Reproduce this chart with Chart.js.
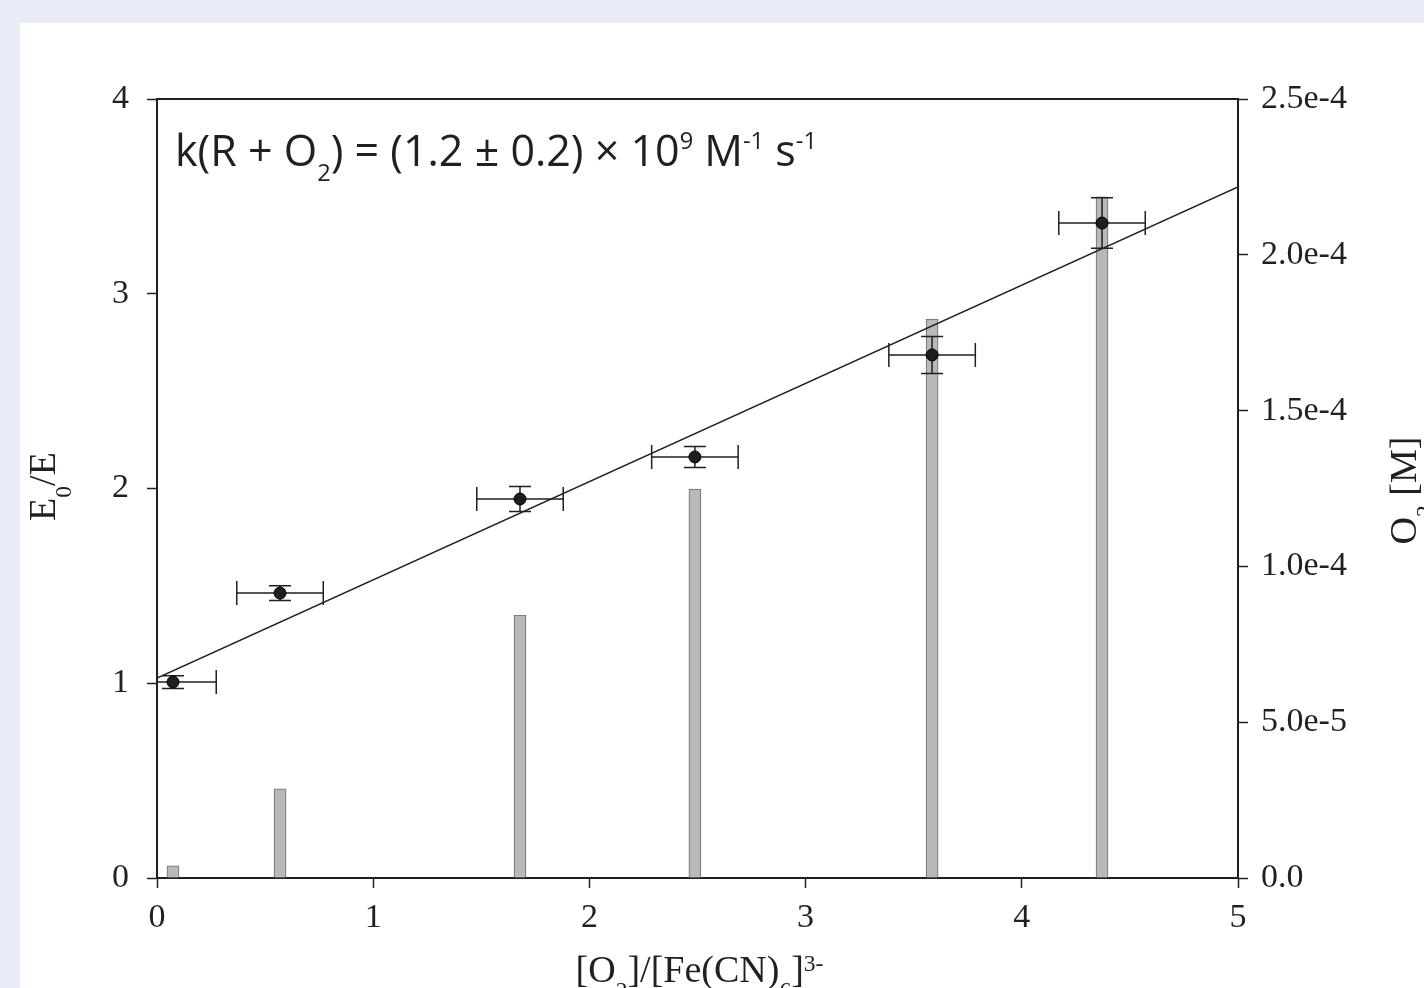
<!DOCTYPE html>
<html>
<head>
<meta charset="utf-8">
<title>E0/E vs O2 ratio</title>
<script src="https://cdn.jsdelivr.net/npm/chart.js@4"></script>
<style>
    html, body { margin: 0; padding: 0; background: #e8ecf7; overflow: hidden; }
    #plotCanvas { display: block; }
</style>
</head>
<body>
<canvas id="plotCanvas" width="1424" height="988"></canvas>
<script>
// measured points: [O2]/[Fe(CN)6]3- ratio vs E0/E
const ratio = [0.074, 0.569, 1.679, 2.488, 3.585, 4.371];
const ratioErr = [0.2, 0.2, 0.2, 0.2, 0.2, 0.2];
const e0e = [1.006, 1.463, 1.946, 2.162, 2.686, 3.363];
const e0eErr = [0.033, 0.038, 0.064, 0.054, 0.095, 0.13];

// O2 concentration bars (right axis, M)
const o2Conc = [3.9e-6, 2.86e-5, 8.44e-5, 1.248e-4, 1.794e-4, 2.186e-4];

// linear fit end points
const fitX = [0, 5];
const fitY = [1.027, 3.548];

const xTicks = [0, 1, 2, 3, 4, 5];
const yTicks = [0, 1, 2, 3, 4];
const y2Ticks = [0, 5e-5, 1e-4, 1.5e-4, 2e-4, 2.5e-4];

document.addEventListener("DOMContentLoaded", function () {
    const ink = "#231f20";
    const serif = "'Liberation Serif', 'Times New Roman', serif";
    const sans = "'Open Sans', 'Noto Sans', sans-serif";

    // draw text made of [string, mode] parts, mode 0 normal, 1 sub, 2 sup
    function richText(ctx, parts, x, y, size, family, align, subCfg) {
        const cfg = subCfg || { small: 0.62, down: 0.42, up: 0.28 };
        const widths = parts.map(([t, m]) => {
            ctx.font = (m ? size * cfg.small : size) + "px " + family;
            return ctx.measureText(t).width;
        });
        const total = widths.reduce((a, b) => a + b, 0);
        let cx = align === "center" ? x - total / 2 : x;
        ctx.textAlign = "left";
        ctx.textBaseline = "alphabetic";
        parts.forEach(([t, m], i) => {
            ctx.font = (m ? size * cfg.small : size) + "px " + family;
            let dy = 0;
            if (m === 1) dy = size * cfg.down;
            if (m === 2) dy = -size * cfg.up;
            ctx.fillText(t, cx, y + dy);
            cx += widths[i];
        });
    }

    const decorPlugin = {
        id: "decor",
        beforeDraw(chart) {
            const ctx = chart.ctx;
            ctx.save();
            ctx.fillStyle = "#e8ecf7";
            ctx.fillRect(0, 0, chart.width, chart.height);
            ctx.fillStyle = "#ffffff";
            ctx.fillRect(20, 23, chart.width - 20, chart.height - 23);
            ctx.restore();
        },
        beforeDatasetDraw(chart, args) {
            // error bars go under the markers
            if (args.index !== 2) return;
            const ctx = chart.ctx;
            const xs = chart.scales.x;
            const ys = chart.scales.y;
            const a = chart.chartArea;
            ctx.save();
            ctx.beginPath();
            ctx.rect(a.left, a.top - 20, a.right - a.left, a.bottom - a.top + 20);
            ctx.clip();
            ctx.strokeStyle = ink;
            ctx.lineWidth = 1.5;
            for (let i = 0; i < ratio.length; i++) {
                const px = xs.getPixelForValue(ratio[i]);
                const py = ys.getPixelForValue(e0e[i]);
                const x0 = xs.getPixelForValue(ratio[i] - ratioErr[i]);
                const x1 = xs.getPixelForValue(ratio[i] + ratioErr[i]);
                const y0 = ys.getPixelForValue(e0e[i] - e0eErr[i]);
                const y1 = ys.getPixelForValue(e0e[i] + e0eErr[i]);
                ctx.beginPath();
                ctx.moveTo(x0, py); ctx.lineTo(x1, py);
                ctx.moveTo(x0, py - 12); ctx.lineTo(x0, py + 12);
                ctx.moveTo(x1, py - 12); ctx.lineTo(x1, py + 12);
                ctx.moveTo(px, y0); ctx.lineTo(px, y1);
                ctx.moveTo(px - 11, y0); ctx.lineTo(px + 11, y0);
                ctx.moveTo(px - 11, y1); ctx.lineTo(px + 11, y1);
                ctx.stroke();
            }
            ctx.restore();
        },
        afterDraw(chart) {
            const ctx = chart.ctx;
            const a = chart.chartArea;
            ctx.save();
            // top frame line
            ctx.strokeStyle = ink;
            ctx.lineWidth = 2;
            ctx.beginPath();
            ctx.moveTo(a.left, a.top);
            ctx.lineTo(a.right, a.top);
            ctx.stroke();

            ctx.fillStyle = ink;
            // annotation
            richText(ctx, [
                ["k(R + O", 0], ["2", 1], [") = (1.2 \u00b1 0.2) \u00d7 10", 0], ["9", 2],
                [" M", 0], ["-1", 2], [" s", 0], ["-1", 2]
            ], 175, 166, 43, sans, "left", { small: 0.55, down: 0.34, up: 0.4 });

            // x title
            const cx = (a.left + a.right) / 2;
            richText(ctx, [
                ["[O", 0], ["2", 1], ["]/[Fe(CN)", 0], ["6", 1], ["]", 0], ["3-", 2]
            ], cx + 2, 982, 38, serif, "center");

            // left title
            const cy = (a.top + a.bottom) / 2;
            ctx.save();
            ctx.translate(55, cy - 2);
            ctx.rotate(-Math.PI / 2);
            richText(ctx, [["E", 0], ["0", 1], ["/E", 0]], 0, 0, 38, serif, "center");
            ctx.restore();

            // right title
            ctx.save();
            ctx.translate(1416, cy + 2);
            ctx.rotate(-Math.PI / 2);
            richText(ctx, [["O", 0], ["2", 1], [" [M]", 0]], 0, 0, 38, serif, "center");
            ctx.restore();
            ctx.restore();
        }
    };

    const tickFont = { family: serif, size: 34 };
    const axisGrid = {
        drawOnChartArea: false,
        drawTicks: true,
        tickLength: 10,
        tickWidth: 1.5,
        tickColor: ink,
        color: ink
    };
    const axisBorder = { display: true, color: ink, width: 2 };

    new Chart(document.getElementById("plotCanvas").getContext("2d"), {
        type: "scatter",
        data: {
            datasets: [
                {
                    type: "bar",
                    label: "O2",
                    yAxisID: "y2",
                    data: ratio.map((x, i) => ({ x: x, y: o2Conc[i] })),
                    backgroundColor: "#b9b9b9",
                    borderColor: "#6a6a6a",
                    borderWidth: 1,
                    barThickness: 12,
                    order: 3
                },
                {
                    type: "line",
                    label: "fit",
                    yAxisID: "y",
                    data: fitX.map((x, i) => ({ x: x, y: fitY[i] })),
                    borderColor: ink,
                    borderWidth: 1.5,
                    pointRadius: 0,
                    fill: false,
                    order: 2
                },
                {
                    type: "scatter",
                    label: "E0/E",
                    yAxisID: "y",
                    data: ratio.map((x, i) => ({ x: x, y: e0e[i] })),
                    backgroundColor: "#1e1e1e",
                    borderColor: "#000000",
                    borderWidth: 1,
                    pointRadius: 6,
                    order: 1
                }
            ]
        },
        options: {
            responsive: false,
            animation: false,
            devicePixelRatio: 1,
            layout: { padding: { top: 99, left: 0, right: 0, bottom: 0 } },
            plugins: {
                legend: { display: false },
                tooltip: { enabled: false }
            },
            scales: {
                x: {
                    type: "linear",
                    min: 0,
                    max: 5,
                    offset: false,
                    afterBuildTicks: (s) => { s.ticks = xTicks.map(v => ({ value: v })); },
                    ticks: { color: ink, font: tickFont, padding: 10, maxRotation: 0, callback: (v) => String(v) },
                    grid: Object.assign({ offset: false }, axisGrid),
                    border: axisBorder,
                    afterFit: (s) => { s.height = 110; }
                },
                y: {
                    type: "linear",
                    position: "left",
                    min: 0,
                    max: 4,
                    afterBuildTicks: (s) => { s.ticks = yTicks.map(v => ({ value: v })); },
                    ticks: { color: ink, font: tickFont, padding: 18, callback: (v) => String(v) },
                    grid: axisGrid,
                    border: axisBorder,
                    afterFit: (s) => { s.width = 157; }
                },
                y2: {
                    type: "linear",
                    position: "right",
                    min: 0,
                    max: 2.5e-4,
                    afterBuildTicks: (s) => { s.ticks = y2Ticks.map(v => ({ value: v })); },
                    ticks: {
                        color: ink,
                        font: tickFont,
                        padding: 13,
                        callback: (v) => v === 0 ? "0.0" : v.toExponential(1)
                    },
                    grid: axisGrid,
                    border: axisBorder,
                    afterFit: (s) => { s.width = 186; }
                }
            }
        },
        plugins: [decorPlugin]
    });
});
</script>
</body>
</html>
